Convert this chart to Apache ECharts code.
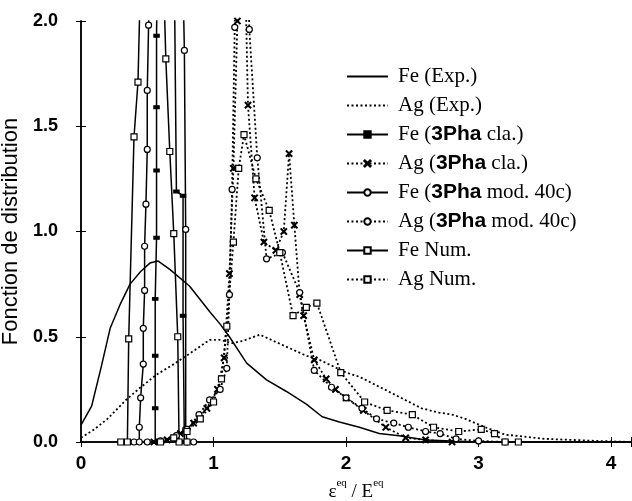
<!DOCTYPE html>
<html>
<head>
<meta charset="utf-8">
<script src="https://cdn.jsdelivr.net/npm/echarts@6/dist/echarts.min.js"></script>
<style>
  html, body { margin: 0; background: #fff; }
  #chart { width: 632px; height: 501px; }
</style>
</head>
<body>
<div id="chart"></div>
<script>
// noms des courbes (légende)
var names = ['Fe (Exp.)', 'Ag (Exp.)', 'Fe (3Pha cla.)', 'Ag (3Pha cla.)',
  'Fe (3Pha mod. 40c)', 'Ag (3Pha mod. 40c)', 'Fe Num.', 'Ag Num.'];

// [eps/E, fonction de distribution]
var feExp = [[0,0.08],[0.08,0.17],[0.15,0.35],[0.22,0.54],[0.30,0.66],[0.37,0.75],[0.45,0.81],[0.52,0.85],
  [0.58,0.86],[0.67,0.82],[0.82,0.74],[0.97,0.62],[1.05,0.56],[1.12,0.50],[1.25,0.375],[1.40,0.295],
  [1.55,0.24],[1.70,0.18],[1.82,0.12],[1.95,0.095],[2.10,0.07],[2.25,0.04],[2.40,0.03],[2.60,0.01],
  [2.80,0.005],[3.00,0],[4.15,0]];
var agExp = [[0,0.02],[0.1,0.06],[0.2,0.11],[0.34,0.2],[0.45,0.26],[0.57,0.32],[0.7,0.37],[0.82,0.42],
  [0.97,0.485],[1.05,0.485],[1.14,0.47],[1.22,0.48],[1.35,0.51],[1.47,0.475],[1.70,0.41],[1.8,0.39],
  [2.0,0.33],[2.1,0.31],[2.32,0.24],[2.57,0.16],[2.7,0.14],[2.8,0.13],[2.9,0.11],[3.05,0.07],
  [3.2,0.035],[3.5,0.015],[3.9,0.005],[4.15,0]];
var feCla = [[0.50,0],[0.56,0],[0.56,0.16],[0.56,0.41],[0.56,0.68],[0.57,0.97],[0.57,1.29],[0.57,1.59],
  [0.57,1.93],[0.58,2.5],[0.70,2.5],[0.72,1.19],[0.77,1.17],[0.77,0.6],[0.78,0],[0.85,0]];
var agCla = [[0.55,0],[0.65,0.01],[0.75,0.04],[0.85,0.09],[0.95,0.16],[1.03,0.25],[1.08,0.40],[1.12,0.80],
  [1.15,1.3],[1.18,2.0],[1.19,2.5],[1.23,2.5],[1.26,1.6],[1.31,1.16],[1.38,0.95],[1.47,0.91],[1.53,1.0],
  [1.57,1.37],[1.61,1.03],[1.65,0.70],[1.68,0.6],[1.76,0.39],[1.85,0.30],[1.92,0.25],[2.0,0.21],
  [2.13,0.15],[2.3,0.07],[2.45,0.02],[2.6,0.01],[2.8,0]];
var feMod = [[0.40,0],[0.44,0],[0.44,0.07],[0.45,0.21],[0.47,0.37],[0.47,0.54],[0.48,0.72],[0.48,0.93],
  [0.49,1.13],[0.50,1.39],[0.50,1.67],[0.51,1.98],[0.52,2.5],[0.76,2.5],[0.78,1.86],[0.79,1.01],
  [0.79,0.06],[0.80,0],[0.85,0]];
var agMod = [[0.50,0],[0.60,0.005],[0.72,0.03],[0.80,0.06],[0.89,0.13],[0.97,0.2],[1.05,0.25],[1.10,0.35],
  [1.12,0.70],[1.14,1.2],[1.16,1.97],[1.17,2.5],[1.25,2.5],[1.27,1.96],[1.33,1.35],[1.40,0.87],
  [1.52,0.90],[1.65,0.71],[1.76,0.34],[1.89,0.26],[2.0,0.21],[2.12,0.16],[2.23,0.11],[2.36,0.09],
  [2.47,0.07],[2.6,0.05],[2.71,0.04],[2.83,0.015],[3.0,0.005],[3.2,0]];
var feNum = [[0.30,0],[0.35,0],[0.36,0.49],[0.40,1.45],[0.43,1.71],[0.46,2.5],[0.61,2.5],[0.64,1.82],
  [0.67,1.38],[0.70,0.99],[0.73,0.50],[0.74,0],[0.80,0]];
var agNum = [[0.60,0],[0.70,0.02],[0.80,0.05],[0.90,0.11],[1.0,0.19],[1.06,0.30],[1.10,0.55],[1.15,0.95],
  [1.19,1.30],[1.23,1.46],[1.32,1.25],[1.42,1.10],[1.50,0.90],[1.60,0.60],[1.70,0.64],[1.78,0.66],
  [1.96,0.33],[2.14,0.19],[2.31,0.15],[2.50,0.13],[2.66,0.07],[2.85,0.05],[3.02,0.06],[3.12,0.04],
  [3.2,0],[3.3,0]];

var crossPath = 'path://M0,1L1,0L5,4L9,0L10,1L6,5L10,9L9,10L5,6L1,10L0,9L4,5Z';

function courbe(name, data, dotted, symbol, size, fill) {
  var s = {
    name: name,
    type: 'line',
    data: data,
    symbol: symbol || 'circle',
    showSymbol: !!symbol,
    symbolSize: size || 6,
    clip: true,
    lineStyle: { color: '#000', width: dotted ? 1.8 : 1.5, type: dotted ? [2, 2.5] : 'solid' },
    itemStyle: { color: fill || '#fff', borderColor: '#000', borderWidth: 1.2 }
  };
  // courbes expérimentales : pas de marqueur (ni dans la légende)
  if (!symbol) {
    s.itemStyle = { color: 'rgba(0,0,0,0)', borderColor: 'rgba(0,0,0,0)', borderWidth: 0 };
  }
  return s;
}

var myChart = echarts.init(document.getElementById('chart'));
var axe = { color: '#000', width: 1.5 };
var option = {
  animation: false,
  backgroundColor: '#fff',
  grid: { left: 81, right: 1, top: 21, bottom: 59, containLabel: false, outerBoundsMode: 'none' },
  legend: {
    orient: 'vertical',
    left: 341,
    top: 61,
    itemWidth: 41,
    itemHeight: 8,
    itemGap: 8,
    data: names,
    formatter: function (n) { return n.replace('3Pha', '{b|3Pha}'); },
    textStyle: {
      fontFamily: 'Liberation Serif', fontSize: 21, color: '#000', lineHeight: 20,
      padding: [0, 0, 0, 5],
      rich: { b: { fontFamily: 'Liberation Sans', fontWeight: 'bold', fontSize: 21, lineHeight: 20 } }
    }
  },
  xAxis: [{
    type: 'value', min: 0, max: 4.15, interval: 1,
    axisLine: { lineStyle: axe },
    axisTick: { inside: true, length: 5, lineStyle: { color: '#000' } },
    splitLine: { show: false },
    axisLabel: {
      color: '#000', fontFamily: 'Liberation Sans', fontWeight: 'bold', fontSize: 19, margin: 12,
      formatter: function (v) { return Number.isInteger(v) ? String(v) : ''; }
    },
    name: '{a|ε}{s|eq}{a| / E}{s|eq}',
    nameLocation: 'middle',
    nameGap: 34,
    nameTextStyle: {
      rich: {
        a: { fontFamily: 'Liberation Serif', fontSize: 19, color: '#000', lineHeight: 24, verticalAlign: 'bottom' },
        s: { fontFamily: 'Liberation Serif', fontSize: 11, color: '#000', lineHeight: 24, verticalAlign: 'top' }
      }
    }
  }, {
    type: 'value', min: 0, max: 4.15, interval: 1, position: 'top',
    axisLine: { lineStyle: axe },
    axisTick: { inside: true, length: 5, lineStyle: { color: '#000' } },
    axisLabel: { show: false },
    splitLine: { show: false }
  }],
  yAxis: [{
    type: 'value', min: 0, max: 2, interval: 0.5,
    axisLine: { lineStyle: axe },
    axisTick: { inside: true, length: 5, lineStyle: { color: '#000' } },
    splitLine: { show: false },
    axisLabel: {
      color: '#000', fontFamily: 'Liberation Sans', fontWeight: 'bold', fontSize: 18, margin: 23,
      formatter: function (v) { return v.toFixed(1); }
    },
    name: 'Fonction de distribution',
    nameLocation: 'middle',
    nameGap: 56,
    nameTextStyle: { fontFamily: 'Liberation Sans', fontSize: 22, color: '#000' }
  }, {
    type: 'value', min: 0, max: 2, interval: 0.5, position: 'right',
    axisLine: { lineStyle: axe },
    axisTick: { inside: true, length: 5, lineStyle: { color: '#000' } },
    axisLabel: { show: false },
    splitLine: { show: false }
  }],
  series: [
    courbe(names[0], feExp, false),
    courbe(names[1], agExp, true),
    courbe(names[2], feCla, false, 'rect', [5, 3], '#000'),
    courbe(names[3], agCla, true, crossPath, 6, '#000'),
    courbe(names[4], feMod, false, 'circle', 6),
    courbe(names[5], agMod, true, 'circle', 6),
    courbe(names[6], feNum, false, 'rect', 6),
    courbe(names[7], agNum, true, 'rect', 6)
  ]
};
myChart.setOption(option, true);
</script>
</body>
</html>
